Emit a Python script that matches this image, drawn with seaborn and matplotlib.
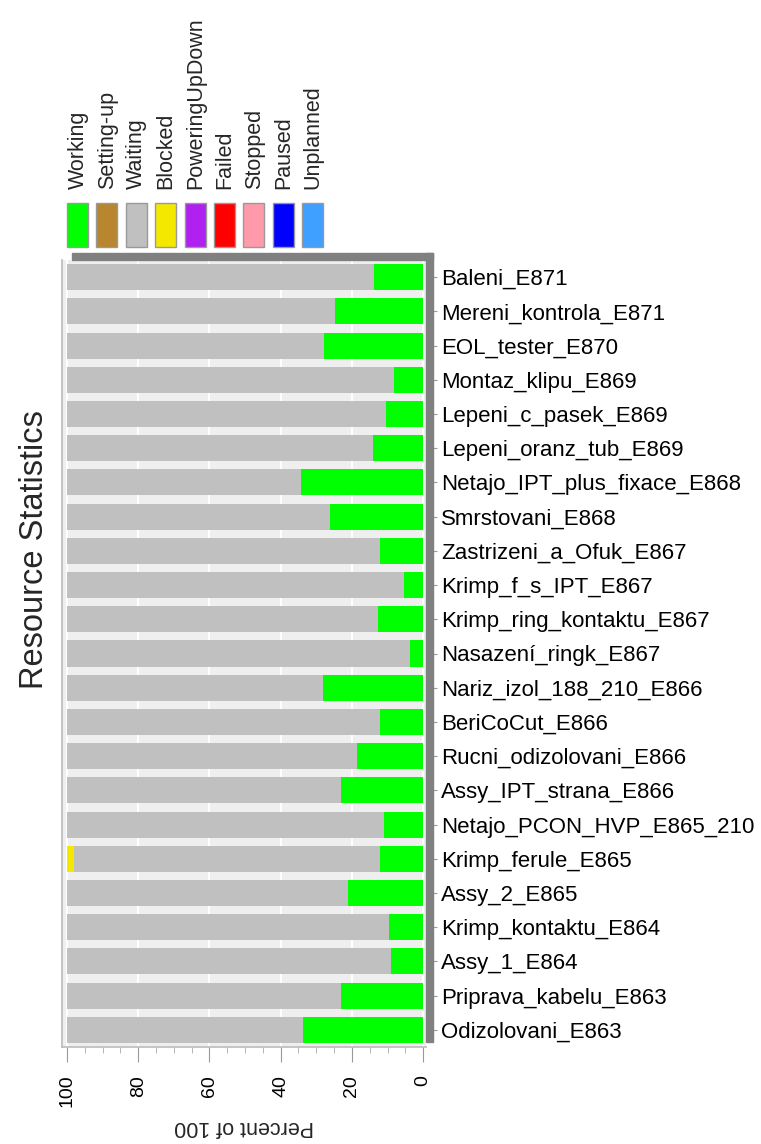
import numpy as np
import pandas as pd
import matplotlib.pyplot as plt
import seaborn as sns
from matplotlib.patches import Rectangle

# ===== 数据 =====
resources = [
    "Baleni_E871", "Mereni_kontrola_E871", "EOL_tester_E870", "Montaz_klipu_E869",
    "Lepeni_c_pasek_E869", "Lepeni_oranz_tub_E869", "Netajo_IPT_plus_fixace_E868",
    "Smrstovani_E868", "Zastrizeni_a_Ofuk_E867", "Krimp_f_s_IPT_E867",
    "Krimp_ring_kontaktu_E867", "Nasazení_ringk_E867", "Nariz_izol_188_210_E866",
    "BeriCoCut_E866", "Rucni_odizolovani_E866", "Assy_IPT_strana_E866",
    "Netajo_PCON_HVP_E865_210", "Krimp_ferule_E865", "Assy_2_E865",
    "Krimp_kontaktu_E864", "Assy_1_E864", "Priprava_kabelu_E863", "Odizolovani_E863",
]
working = [13.8, 24.8, 27.9, 8.2, 10.4, 14.1, 34.4, 26.2, 12.1, 5.4, 12.7, 3.7,
           28.2, 12.1, 18.6, 23.1, 11.0, 12.1, 21.2, 9.5, 9.0, 23.1, 33.7]
waiting = [86.2, 75.2, 72.1, 91.8, 89.6, 85.9, 65.6, 73.8, 87.9, 94.6, 87.3, 96.3,
           71.8, 87.9, 81.4, 76.9, 89.0, 85.8, 78.8, 90.5, 91.0, 76.9, 66.3]
blocked = [0, 0, 0, 0, 0, 0, 0, 0, 0, 0, 0, 0,
           0, 0, 0, 0, 0, 2.1, 0, 0, 0, 0, 0]

states = ["Working", "Setting-up", "Waiting", "Blocked", "PoweringUpDown",
          "Failed", "Stopped", "Paused", "Unplanned"]
state_colors = ["#00ff00", "#b8862e", "#c0c0c0", "#f5e800", "#b020f0",
                "#ff0000", "#ff9aaa", "#0000ff", "#3fa0ff"]
x_ticks = [0, 20, 40, 60, 80, 100]

df = pd.DataFrame({"resource": resources, "working": working,
                   "waiting": waiting, "blocked": blocked})
df["upto_waiting"] = df["working"] + df["waiting"]
df["upto_blocked"] = df["upto_waiting"] + df["blocked"]

# ===== 绘图 =====
sns.set_theme(style="white")
plt.rcParams["font.family"] = ["Liberation Sans", "DejaVu Sans"]

W, H = 761, 1144
fig = plt.figure(figsize=(W / 100, H / 100), dpi=100)
ax = fig.add_axes([62 / W, 1 - 1047 / H, (426 - 62) / W, (1047 - 260) / H])
ax.set_facecolor("#efefef")

# 堆叠条形：从总和往下叠画
for col, c in [("upto_blocked", state_colors[3]),
               ("upto_waiting", state_colors[2]),
               ("working", state_colors[0])]:
    sns.barplot(data=df, x=col, y="resource", color=c, saturation=1,
                width=0.76, linewidth=0, ax=ax, zorder=3)

ax.set_xlim(101.4, -0.8)
ax.set_xticks(x_ticks)
ax.set_xticks(np.arange(0, 101, 5), minor=True)
ax.grid(axis="x", color="white", linewidth=1.5, zorder=0)
ax.set_axisbelow(True)

ax.yaxis.tick_right()
ax.tick_params(axis="y", which="major", right=True, length=8, width=0.8,
               color="#999999", labelsize=16, pad=3, labelcolor="black")
ax.tick_params(axis="x", which="major", bottom=True, length=11, width=0.8,
               color="#999999", labelsize=14, labelrotation=90, pad=9,
               labelcolor="black")
ax.tick_params(axis="x", which="minor", bottom=True, length=4, width=0.6,
               color="#aaaaaa")
for lab in ax.get_xticklabels():
    lab.set_va("top")
ax.set_ylabel("")
ax.set_xlabel("Percent of 100", rotation=180, fontsize=15.5, labelpad=6)

for s in ["top", "right"]:
    ax.spines[s].set_visible(False)
for s in ["left", "bottom"]:
    ax.spines[s].set_color("#bbbbbb")
    ax.spines[s].set_linewidth(1.2)

# 三维阴影边
fig.patches.append(Rectangle((72 / W, 1 - 260 / H), (433 - 72) / W, 7 / H,
                             transform=fig.transFigure, color="#808080", zorder=5))
fig.patches.append(Rectangle((426 / W, 1 - 1042 / H), 7 / W, (1042 - 253) / H,
                             transform=fig.transFigure, color="#808080", zorder=5))

# 标题
fig.text(35 / W, 1 - 550 / H, "Resource Statistics", rotation=90,
         ha="center", va="center", fontsize=23.5)

# 图例
for i, (name, c) in enumerate(zip(states, state_colors)):
    x0 = 67 + i * 29.4
    fig.patches.append(Rectangle((x0 / W, 1 - 247 / H), 21 / W, 44 / H,
                                 transform=fig.transFigure, facecolor=c,
                                 edgecolor="#999999", linewidth=1))
    fig.text((x0 + 11) / W, 1 - 189 / H, name, rotation=90,
             ha="center", va="bottom", fontsize=15.5)

fig.savefig("out.png", dpi=100)
